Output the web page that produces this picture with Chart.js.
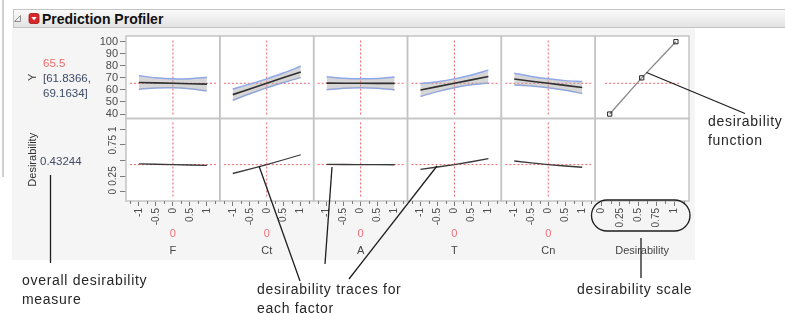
<!DOCTYPE html>
<html><head><meta charset="utf-8">
<script src="https://cdn.jsdelivr.net/npm/chart.js@4.4.1/dist/chart.umd.min.js"></script>
<style>
html,body{margin:0;padding:0;width:785px;height:313px;overflow:hidden;background:#fff;font-family:'Liberation Sans',Arial,sans-serif;}
.abs{position:absolute;}
.val{font-size:11.5px;line-height:14px;color:#3e4a66;white-space:nowrap;}
.note{font-size:14px;line-height:19px;color:#262626;letter-spacing:0.7px;white-space:nowrap;}
</style></head><body>
<div class="abs" style="left:2px;top:0;width:2px;height:177px;background:#d0d0d0"></div>
<div class="abs" style="left:12px;top:27px;width:683px;height:233px;background:#f5f5f5"></div>
<div class="abs" style="left:13px;top:9px;width:790px;height:17px;border:1px solid #c4c4c4;background:linear-gradient(#f9f9f9,#e3e3e3)"></div>
<div class="abs" style="left:42px;top:9.5px;font-weight:bold;font-size:14px;line-height:18px;color:#111">Prediction Profiler</div>
<canvas id="c" width="785" height="313" class="abs" style="left:0;top:0"></canvas>
<div class="abs val" id="vPred" style="left:43px;top:56px;color:#f06b6b"></div>
<div class="abs val" id="vLo" style="left:43px;top:71px"></div>
<div class="abs val" id="vHi" style="left:43px;top:86px"></div>
<div class="abs val" id="vDes" style="left:40px;top:154px"></div>
<div class="abs note" style="left:22px;top:271px">overall desirability<br>measure</div>
<div class="abs note" style="left:257px;top:280px">desirability traces for<br>each factor</div>
<div class="abs note" style="left:577px;top:280px">desirability scale</div>
<div class="abs note" style="left:708px;top:112px">desirability<br>function</div>
<svg class="abs" style="left:0;top:0;pointer-events:none" width="785" height="313">
  <polygon points="20.5,15.5 20.5,21.5 14.5,21.5" fill="#f2f2f2" stroke="#8a8a8a" stroke-width="1"/>
  <rect x="29" y="13.5" width="10" height="10" rx="2" fill="#d8262b" stroke="#a51515" stroke-width="0.8"/>
  <polygon points="31.3,17 36.7,17 34,20.6" fill="#fff"/>
  <g stroke="#1e1e1e" stroke-width="1.3" fill="none">
    <line x1="50.5" y1="175" x2="50.5" y2="263"/>
    <line x1="259" y1="166" x2="300" y2="281"/>
    <line x1="332" y1="167" x2="325" y2="264"/>
    <line x1="437" y1="166" x2="349" y2="279"/>
    <line x1="646.5" y1="72.5" x2="745" y2="113.5"/>
    <rect x="591.5" y="200" width="98.5" height="31" rx="15.5"/>
    <line x1="641" y1="238" x2="641" y2="278"/>
  </g>
</svg>
<script>
// ---------- data ----------
const factorNames = ['F', 'Ct', 'A', 'T', 'Cn'];
const currentSettings = [0, 0, 0, 0, 0];
const factorGrid = [-1, -0.5, 0, 0.5, 1];

const predF   = [66.2, 65.85, 65.5, 65.15, 64.8];
const upperF  = [71.8, 70.05, 69.1634, 69.35, 70.4];
const lowerF  = [60.6, 61.65, 61.8366, 60.95, 59.2];
const predCt  = [56.1, 60.8, 65.5, 70.2, 74.9];
const upperCt = [60.8, 64.8, 69.1634, 74.2, 79.6];
const lowerCt = [51.4, 56.8, 61.8366, 66.2, 70.2];
const predA   = [65.6, 65.55, 65.5, 65.45, 65.4];
const upperA  = [71.0, 69.65, 69.1634, 69.55, 70.8];
const lowerA  = [60.2, 61.45, 61.8366, 61.35, 60.0];
const predT   = [59.9, 62.7, 65.5, 68.3, 71.1];
const upperT  = [65.2, 66.8, 69.1634, 72.4, 76.4];
const lowerT  = [54.6, 58.6, 61.8366, 64.2, 65.8];
const predCn  = [69.0, 67.25, 65.5, 63.75, 62.0];
const upperCn = [73.9, 71.2, 69.1634, 67.7, 66.9];
const lowerCn = [64.1, 63.3, 61.8366, 59.8, 57.1];

const desF  = [0.445, 0.438, 0.432, 0.426, 0.42];
const desCt = [0.29, 0.36, 0.432, 0.51, 0.59];
const desA  = [0.436, 0.434, 0.432, 0.431, 0.43];
const desT  = [0.357, 0.394, 0.432, 0.478, 0.527];
const desCn = [0.49, 0.46, 0.432, 0.41, 0.39];

const desFnY = [40, 70, 100];
const desFnD = [0.11, 0.55, 1.02];

const predictedY = 65.5;
const ciLow = 61.8366;
const ciHigh = 69.1634;
const overallDes = 0.43244;

const yTicks = [40, 50, 60, 70, 80, 90, 100];
const yTickLabels = ['40', '50', '60', '70', '80', '90', '100'];
const dTicks = [0, 0.25, 0.5, 0.75, 1];
const dTickLabels = ['0', '0.25', '', '0.75', '1'];
const fTicks = [-1, -0.5, 0, 0.5, 1];
const fTickLabels = ['-1', '-0.5', '0', '0.5', '1'];
const fMinor = [-1.25, -0.75, -0.25, 0.25, 0.75, 1.25];
const dxTicks = [0, 0.25, 0.5, 0.75, 1];
const dxTickLabels = ['0', '0.25', '0.5', '0.75', '1'];
const dxMinor = [0.125, 0.375, 0.625, 0.875, 1.125];

// ---------- text ----------
document.getElementById('vPred').textContent = String(predictedY);
document.getElementById('vLo').textContent = '[' + ciLow + ',';
document.getElementById('vHi').textContent = ciHigh + ']';
document.getElementById('vDes').textContent = String(overallDes);

// ---------- chart ----------
const FONT = "'Liberation Sans', Arial, sans-serif";
Chart.defaults.font.family = FONT;

const preds = [predF, predCt, predA, predT, predCn];
const uppers = [upperF, upperCt, upperA, upperT, upperCn];
const lowers = [lowerF, lowerCt, lowerA, lowerT, lowerCn];
const dess = [desF, desCt, desA, desT, desCn];
const pts = arr => factorGrid.map((x, k) => ({x: x, y: arr[k]}));

const datasets = [];
factorNames.forEach((name, i) => {
  const xid = 'x' + i;
  datasets.push({label: name + ' pred', data: pts(preds[i]), xAxisID: xid, yAxisID: 'yT',
    borderColor: '#2f2f2f', borderWidth: 1.6, pointRadius: 0, fill: false, order: 0});
  datasets.push({label: name + ' upper', data: pts(uppers[i]), xAxisID: xid, yAxisID: 'yT',
    borderColor: '#8ea7e8', borderWidth: 1.5, pointRadius: 0, tension: 0.3,
    fill: '+1', backgroundColor: 'rgba(165,165,165,0.45)', order: 2});
  datasets.push({label: name + ' lower', data: pts(lowers[i]), xAxisID: xid, yAxisID: 'yT',
    borderColor: '#8ea7e8', borderWidth: 1.5, pointRadius: 0, tension: 0.3, fill: false, order: 2});
  datasets.push({label: name + ' desirability', data: pts(dess[i]), xAxisID: xid, yAxisID: 'yD',
    borderColor: '#3a3a3a', borderWidth: 1.3, pointRadius: 0, fill: false, order: 0});
});
datasets.push({label: 'desirability function', data: desFnD.map((d, k) => ({x: d, y: desFnY[k]})),
  xAxisID: 'x5', yAxisID: 'yT', borderColor: '#8c8c8c', borderWidth: 1.4, fill: false,
  pointStyle: 'rect', pointRadius: 3, pointBorderColor: '#222', pointBorderWidth: 1,
  pointBackgroundColor: 'rgba(255,255,255,0)', order: 0});

function xAxis(i, min, max, ticks, labels, title) {
  return {
    type: 'linear', position: 'bottom', stack: 'cols', stackWeight: 1, weight: i,
    min: min, max: max,
    afterBuildTicks: s => { s.ticks = ticks.map(v => ({value: v})); },
    afterFit: s => { s.height = 58; },
    grid: {display: true, drawOnChartArea: false, drawTicks: true, tickLength: 5, tickColor: '#7a7a7a', tickWidth: 1},
    border: {display: false},
    ticks: {autoSkip: false, minRotation: 90, maxRotation: 90, padding: 2, color: '#4a4a4a',
      font: {size: 10}, callback: (v, k) => labels[k]},
    title: {display: true, text: title, color: '#444', font: {size: 11}, padding: {top: 0, bottom: 1.4}}
  };
}

const scales = {};
factorNames.forEach((n, i) => { scales['x' + i] = xAxis(i, -1.38, 1.38, fTicks, fTickLabels, n); });
scales.x5 = xAxis(5, -0.09, 1.2, dxTicks, dxTickLabels, 'Desirability');
scales.yT = {
  type: 'linear', position: 'left', stack: 'rows', stackWeight: 1, weight: 2,
  min: 36.3, max: 104.7,
  afterBuildTicks: s => { s.ticks = yTicks.map(v => ({value: v})); },
  afterFit: s => { s.width = 100; },
  grid: {display: true, drawOnChartArea: false, drawTicks: true, tickLength: 6, tickColor: '#7a7a7a'},
  border: {display: false},
  ticks: {autoSkip: false, padding: 2, color: '#4a4a4a', font: {size: 11}, callback: (v, k) => yTickLabels[k]},
  title: {display: true, text: 'Y', color: '#333', font: {size: 11}, padding: {top: 0, bottom: 0}}
};
scales.yD = {
  type: 'linear', position: 'left', stack: 'rows', stackWeight: 1, weight: 1,
  min: -0.15, max: 1.17,
  afterBuildTicks: s => { s.ticks = dTicks.map(v => ({value: v})); },
  afterFit: s => { s.width = 100; },
  grid: {display: true, drawOnChartArea: false, drawTicks: true, tickLength: 6, tickColor: '#7a7a7a'},
  border: {display: false},
  ticks: {autoSkip: false, minRotation: 90, maxRotation: 90, crossAlign: 'center', padding: -2.5,
    color: '#4a4a4a', font: {size: 10}, callback: (v, k) => dTickLabels[k]},
  title: {display: true, text: 'Desirability', color: '#333', font: {size: 11}, padding: {top: 0, bottom: 0}}
};

const colIds = ['x0', 'x1', 'x2', 'x3', 'x4', 'x5'];

function seg(ctx, x1, y1, x2, y2) { ctx.beginPath(); ctx.moveTo(x1, y1); ctx.lineTo(x2, y2); ctx.stroke(); }

const profilerFrame = {
  id: 'profilerFrame',
  beforeDatasetsDraw(chart) {
    const ctx = chart.ctx;
    const cols = colIds.map(id => chart.scales[id]);
    const yT = chart.scales.yT, yD = chart.scales.yD;
    const a = chart.chartArea;
    ctx.save();
    ctx.fillStyle = '#ffffff';
    ctx.fillRect(a.left, a.top, a.right - a.left, a.bottom - a.top);
    ctx.strokeStyle = 'rgba(238,72,82,0.85)';
    ctx.lineWidth = 1;
    ctx.setLineDash([2, 2]);
    const pyT = yT.getPixelForValue(predictedY);
    const pyD = yD.getPixelForValue(overallDes);
    cols.forEach((xs, i) => {
      if (i < factorNames.length) {
        const px = xs.getPixelForValue(currentSettings[i]);
        seg(ctx, px, yT.top + 4.5, px, yT.bottom - 4);
        seg(ctx, px, yD.top + 4, px, yD.bottom - 3);
        seg(ctx, xs.left + 4, pyT, xs.right - 4, pyT);
        seg(ctx, xs.left + 4, pyD, xs.right - 4, pyD);
      } else {
        seg(ctx, xs.left + 10, pyT, xs.right - 10, pyT);
      }
    });
    ctx.setLineDash([]);
    ctx.strokeStyle = '#c4c4c4';
    ctx.lineWidth = 1.5;
    cols.forEach(xs => [yT, yD].forEach(ys => ctx.strokeRect(xs.left, ys.top, xs.right - xs.left, ys.bottom - ys.top)));
    ctx.restore();
  },
  afterDraw(chart) {
    const ctx = chart.ctx;
    ctx.save();
    ctx.strokeStyle = '#7a7a7a';
    ctx.lineWidth = 1;
    colIds.forEach((id, i) => {
      const xs = chart.scales[id];
      const minors = i < factorNames.length ? fMinor : dxMinor;
      minors.forEach(v => {
        const px = Math.round(xs.getPixelForValue(v)) + 0.5;
        seg(ctx, px, xs.top, px, xs.top + 3);
      });
      if (i < factorNames.length) {
        ctx.fillStyle = '#f07078';
        ctx.font = '11px ' + FONT;
        ctx.textAlign = 'center';
        ctx.textBaseline = 'middle';
        ctx.fillText(String(currentSettings[i]), (xs.left + xs.right) / 2, 234);
      }
    });
    ctx.restore();
  }
};

new Chart(document.getElementById('c'), {
  type: 'line',
  data: {datasets: datasets},
  options: {
    responsive: false,
    animation: false,
    events: [],
    devicePixelRatio: 1,
    layout: {autoPadding: false, padding: {left: 26, right: 96, top: 36, bottom: 54}},
    plugins: {legend: {display: false}, tooltip: {enabled: false}},
    scales: scales
  },
  plugins: [profilerFrame]
});
</script>
</body></html>
